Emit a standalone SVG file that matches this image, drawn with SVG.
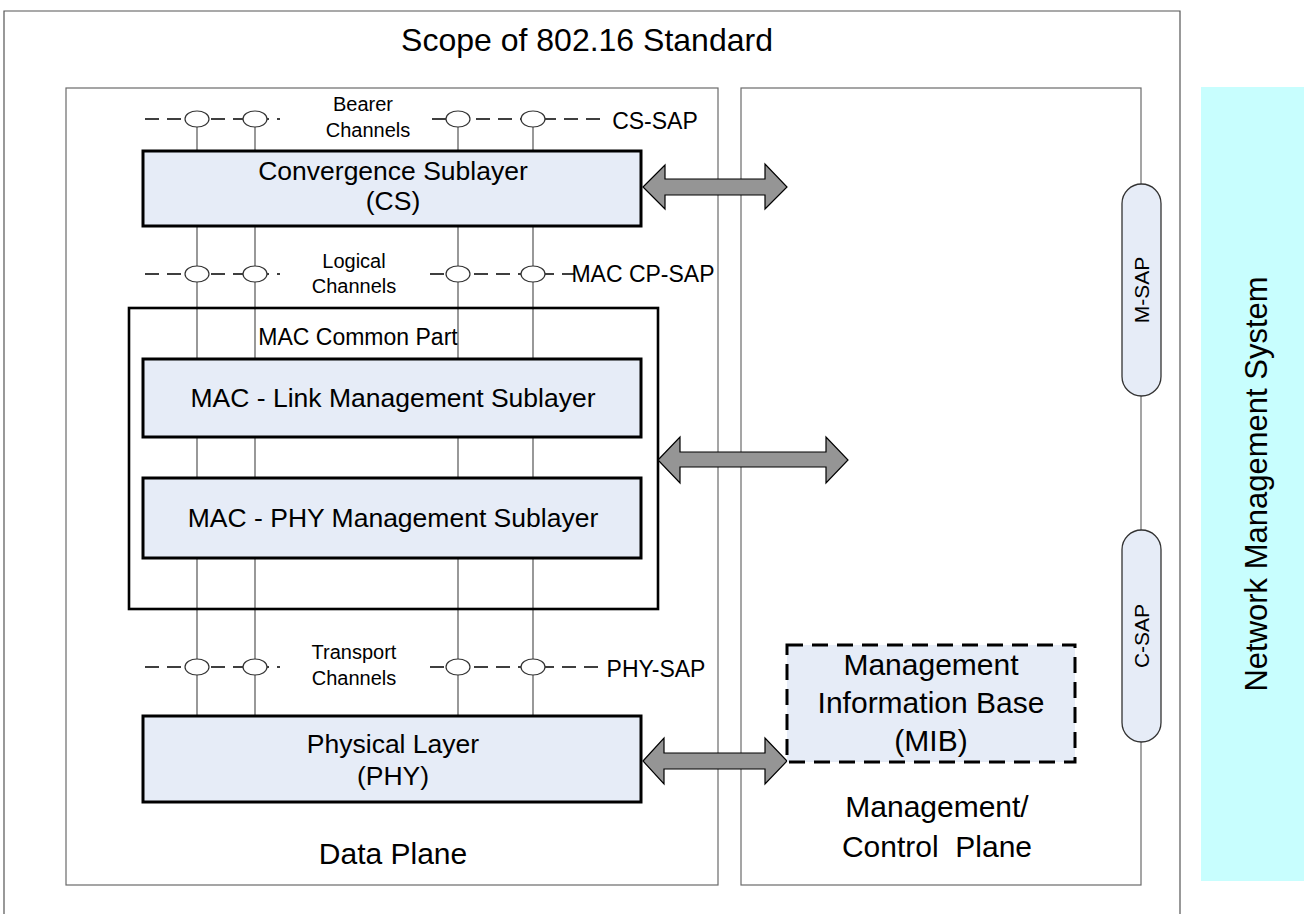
<svg xmlns="http://www.w3.org/2000/svg" width="1304" height="914" viewBox="0 0 1304 914">
<style>
text{font-family:"Liberation Sans",Arial,sans-serif;fill:#000;text-anchor:middle}
.layer{fill:#E6ECF7;stroke:#000;stroke-width:3}
.plane{fill:#fff;stroke:#6a6a6a;stroke-width:1.2}
.chan{stroke:#555;stroke-width:1.2;fill:none}
.dash{stroke:#000;stroke-width:1.3;stroke-dasharray:14 8;fill:none}
.sap{fill:#fff;stroke:#333;stroke-width:1.2}
.arrow{fill:#959595;stroke:#000;stroke-width:1.2;stroke-linejoin:miter}
.stad{fill:#E6ECF7;stroke:#333;stroke-width:1.3}
.small{font-size:20px}
.lbl{font-size:26.5px}
</style>
<rect width="1304" height="914" fill="#fff"/>
<g id="scope">
<path d="M4,916 V11 H1180 V916" fill="none" stroke="#555" stroke-width="1.2"/>
<text x="587" y="51" font-size="32">Scope of 802.16 Standard</text>
</g>
<g id="nms">
<rect x="1201" y="87" width="103" height="794" fill="#C8FEFE"/>
<text transform="translate(1267,484) rotate(-90)" font-size="31">Network Management System</text>
</g>
<g id="data-plane">
<rect class="plane" x="66" y="88" width="652" height="797"/>
<text x="393" y="864" font-size="30">Data Plane</text>
</g>
<g id="mgmt-plane">
<rect class="plane" x="741" y="88" width="400" height="797"/>
<text x="937" y="817" font-size="30">Management/</text>
<text x="937" y="857" font-size="30" xml:space="preserve">Control  Plane</text>
</g>
<g id="channels">
<path class="chan" d="M197,127 V716 M255,127 V716 M458,127 V716 M533,127 V716"/>
</g>
<g id="mac-common-part">
<rect x="129" y="308" width="529" height="301" fill="none" stroke="#000" stroke-width="2.6"/>
<text x="358" y="345" font-size="23">MAC Common Part</text>
</g>
<g id="connectors">
<polygon class="arrow" points="643,187 665,165 665,179 765,179 765,164 787,187 765,209 765,195 665,195 665,209"/>
<polygon class="arrow" points="658,460 680,437 680,452 826,452 826,437 848,460 826,483 826,467 680,467 680,483"/>
<polygon class="arrow" points="643,761 664,738 664,753 765,753 765,738 787,761 765,784 765,769 664,769 664,784"/>
</g>
<g id="cs-sap">
<line class="dash" x1="145" y1="119" x2="280" y2="119"/>
<line class="dash" x1="432" y1="119" x2="606" y2="119"/>
<ellipse class="sap" cx="197" cy="119" rx="12" ry="8"/>
<ellipse class="sap" cx="255" cy="119" rx="12" ry="8"/>
<ellipse class="sap" cx="458" cy="119" rx="12" ry="8"/>
<ellipse class="sap" cx="533" cy="119" rx="12" ry="8"/>
<text class="small" x="363" y="111">Bearer</text>
<text class="small" x="368" y="137">Channels</text>
<text x="655" y="129" font-size="23">CS-SAP</text>
</g>
<g id="cs">
<rect class="layer" x="143" y="151" width="498" height="75"/>
<text class="lbl" x="393" y="180">Convergence Sublayer</text>
<text class="lbl" x="393" y="210">(CS)</text>
</g>
<g id="mac-cp-sap">
<line class="dash" x1="145" y1="274" x2="280" y2="274"/>
<line class="dash" x1="430" y1="274" x2="575" y2="274"/>
<ellipse class="sap" cx="197" cy="274" rx="12" ry="8"/>
<ellipse class="sap" cx="255" cy="274" rx="12" ry="8"/>
<ellipse class="sap" cx="458" cy="274" rx="12" ry="8"/>
<ellipse class="sap" cx="533" cy="274" rx="12" ry="8"/>
<text class="small" x="354" y="268">Logical</text>
<text class="small" x="354" y="293">Channels</text>
<text x="643" y="282" font-size="23">MAC CP-SAP</text>
</g>
<g id="mac-link">
<rect class="layer" x="143" y="359" width="498" height="78"/>
<text class="lbl" x="393" y="407">MAC - Link Management Sublayer</text>
</g>
<g id="mac-phy">
<rect class="layer" x="143" y="478" width="498" height="80"/>
<text class="lbl" x="393" y="527">MAC - PHY Management Sublayer</text>
</g>
<g id="phy-sap">
<line class="dash" x1="145" y1="667" x2="280" y2="667"/>
<line class="dash" x1="430" y1="667" x2="603" y2="667"/>
<ellipse class="sap" cx="197" cy="667" rx="12" ry="8"/>
<ellipse class="sap" cx="255" cy="667" rx="12" ry="8"/>
<ellipse class="sap" cx="458" cy="667" rx="12" ry="8"/>
<ellipse class="sap" cx="533" cy="667" rx="12" ry="8"/>
<text class="small" x="354" y="659">Transport</text>
<text class="small" x="354" y="685">Channels</text>
<text x="656" y="677" font-size="23">PHY-SAP</text>
</g>
<g id="phy">
<rect class="layer" x="143" y="716" width="498" height="86"/>
<text class="lbl" x="393" y="753">Physical Layer</text>
<text class="lbl" x="393" y="785">(PHY)</text>
</g>
<g id="mib">
<rect x="787" y="645" width="288" height="117" fill="#E6ECF7" stroke="#000" stroke-width="3" stroke-dasharray="16 9"/>
<text x="931" y="675" font-size="30">Management</text>
<text x="931" y="713" font-size="30">Information Base</text>
<text x="931" y="751" font-size="30">(MIB)</text>
</g>
<g id="m-sap">
<rect class="stad" x="1122" y="184" width="39" height="212" rx="19.5"/>
<text transform="translate(1149,290) rotate(-90)" font-size="21">M-SAP</text>
</g>
<g id="c-sap">
<rect class="stad" x="1122" y="530" width="39" height="212" rx="19.5"/>
<text transform="translate(1149,636) rotate(-90)" font-size="21">C-SAP</text>
</g>
</svg>
